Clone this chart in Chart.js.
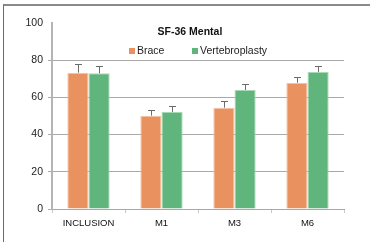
<!DOCTYPE html>
<html>
<head>
<meta charset="utf-8">
<script src="https://cdn.jsdelivr.net/npm/chart.js@4"></script>
<style>
  html, body { margin: 0; padding: 0; background: #fff; }
  #wrap { position: relative; width: 370px; height: 242px; overflow: hidden; }
  #frame { position: absolute; left: 3px; top: 4px; right: -2px; bottom: -2px;
           border-left: 1px solid #6a6a6a; border-top: 2px solid #8a8a8a; }
  canvas { position: absolute; left: 0; top: 0; }
  #title { position: absolute; left: 140px; width: 100px; top: 25px; text-align: center;
           font: bold 10.5px "Liberation Sans", Arial, sans-serif; color: #111; }
  #legend { position: absolute; top: 42px; left: 129px; height: 16px;
            font: 10.5px "Liberation Sans", Arial, sans-serif; color: #222; }
  .item { position: absolute; top: 0; white-space: nowrap; line-height: 16px; }
  .box { display: inline-block; width: 6px; height: 6px; margin-right: 2px; vertical-align: 0px; }
</style>
</head>
<body>
<div id="wrap">
  <div id="frame"></div>
  <canvas id="chart" width="370" height="242"></canvas>
  <div id="title"></div>
  <div id="legend"></div>
</div>
<script>
// valeurs
const chartTitle = 'SF-36 Mental';
const categories = ['INCLUSION', 'M1', 'M3', 'M6'];
const seriesNames = ['Brace', 'Vertebroplasty'];
const braceValues = [73.3, 50.2, 54.5, 67.9];
const vertebroValues = [73.0, 52.2, 64.0, 73.7];
// écart-type (seulement la moitié haute est dessinée)
const braceErr = [4.5, 2.9, 3.4, 3.2];
const vertebroErr = [3.7, 3.0, 3.0, 3.3];
const yTicks = [0, 20, 40, 60, 80, 100];

const colors = ['#EA925F', '#5FB57C'];

// titre + légende en HTML, par-dessus la zone du graphique
document.getElementById('title').textContent = chartTitle;
const legend = document.getElementById('legend');
const legendX = [0, 63];
seriesNames.forEach((name, i) => {
  const el = document.createElement('span');
  el.className = 'item';
  el.style.left = legendX[i] + 'px';
  el.innerHTML = '<span class="box" style="background:' + colors[i] + '"></span>';
  el.appendChild(document.createTextNode(name));
  legend.appendChild(el);
});

// barres d'erreur (partie haute uniquement)
const errorBars = {
  id: 'errorBars',
  afterDatasetsDraw(chart) {
    const ctx = chart.ctx;
    const y = chart.scales.y;
    const errs = [braceErr, vertebroErr];
    ctx.save();
    ctx.strokeStyle = '#6b6b6b';
    ctx.lineWidth = 1;
    chart.data.datasets.forEach((ds, di) => {
      const meta = chart.getDatasetMeta(di);
      meta.data.forEach((bar, i) => {
        const top = y.getPixelForValue(ds.data[i]);
        const end = y.getPixelForValue(ds.data[i] + errs[di][i]);
        const x = Math.round(bar.x) + 0.5;
        ctx.beginPath();
        ctx.moveTo(x, top);
        ctx.lineTo(x, Math.round(end) + 0.5);
        ctx.moveTo(x - 3.5, Math.round(end) + 0.5);
        ctx.lineTo(x + 3.5, Math.round(end) + 0.5);
        ctx.stroke();
      });
    });
    ctx.restore();
  }
};

const fontAxis = { family: '"Liberation Sans", Arial, sans-serif' };

new Chart(document.getElementById('chart'), {
  type: 'bar',
  data: {
    labels: categories,
    datasets: [{
      label: seriesNames[0],
      data: braceValues,
      backgroundColor: colors[0],
      borderColor: '#f3c4a6',
      borderWidth: { right: 1, top: 1, left: 1 },
      borderSkipped: 'bottom'
    }, {
      label: seriesNames[1],
      data: vertebroValues,
      backgroundColor: colors[1],
      borderColor: '#a9d8b7',
      borderWidth: { right: 1, top: 1, left: 1 },
      borderSkipped: 'bottom'
    }]
  },
  options: {
    responsive: false,
    animation: false,
    layout: { padding: { left: 0, right: 26, top: 23, bottom: 0 } },
    plugins: {
      legend: { display: false },
      title: { display: false },
      tooltip: { enabled: false }
    },
    datasets: {
      bar: { categoryPercentage: 0.58, barPercentage: 1.0 }
    },
    scales: {
      x: {
        grid: { offset: true, drawOnChartArea: false, tickLength: 4, color: '#c8c8c8' },
        border: { color: '#a8a8a8', width: 1 },
        ticks: { color: '#111', padding: 5, font: { ...fontAxis, size: 9.5 } },
        afterFit: s => { s.height = 33; }
      },
      y: {
        min: 0,
        max: 100,
        afterBuildTicks: s => { s.ticks = yTicks.map(v => ({ value: v })); },
        grid: {
          tickLength: 4,
          color: ctx => (ctx.tick && ctx.tick.value === 100) ? 'rgba(0,0,0,0)' : '#a9a9a9'
        },
        border: { color: '#b4b4b4', width: 2 },
        ticks: { color: '#222', padding: 5, font: { ...fontAxis, size: 10.5 } },
        afterFit: s => { s.width = 52; }
      }
    }
  },
  plugins: [errorBars]
});
</script>
</body>
</html>
